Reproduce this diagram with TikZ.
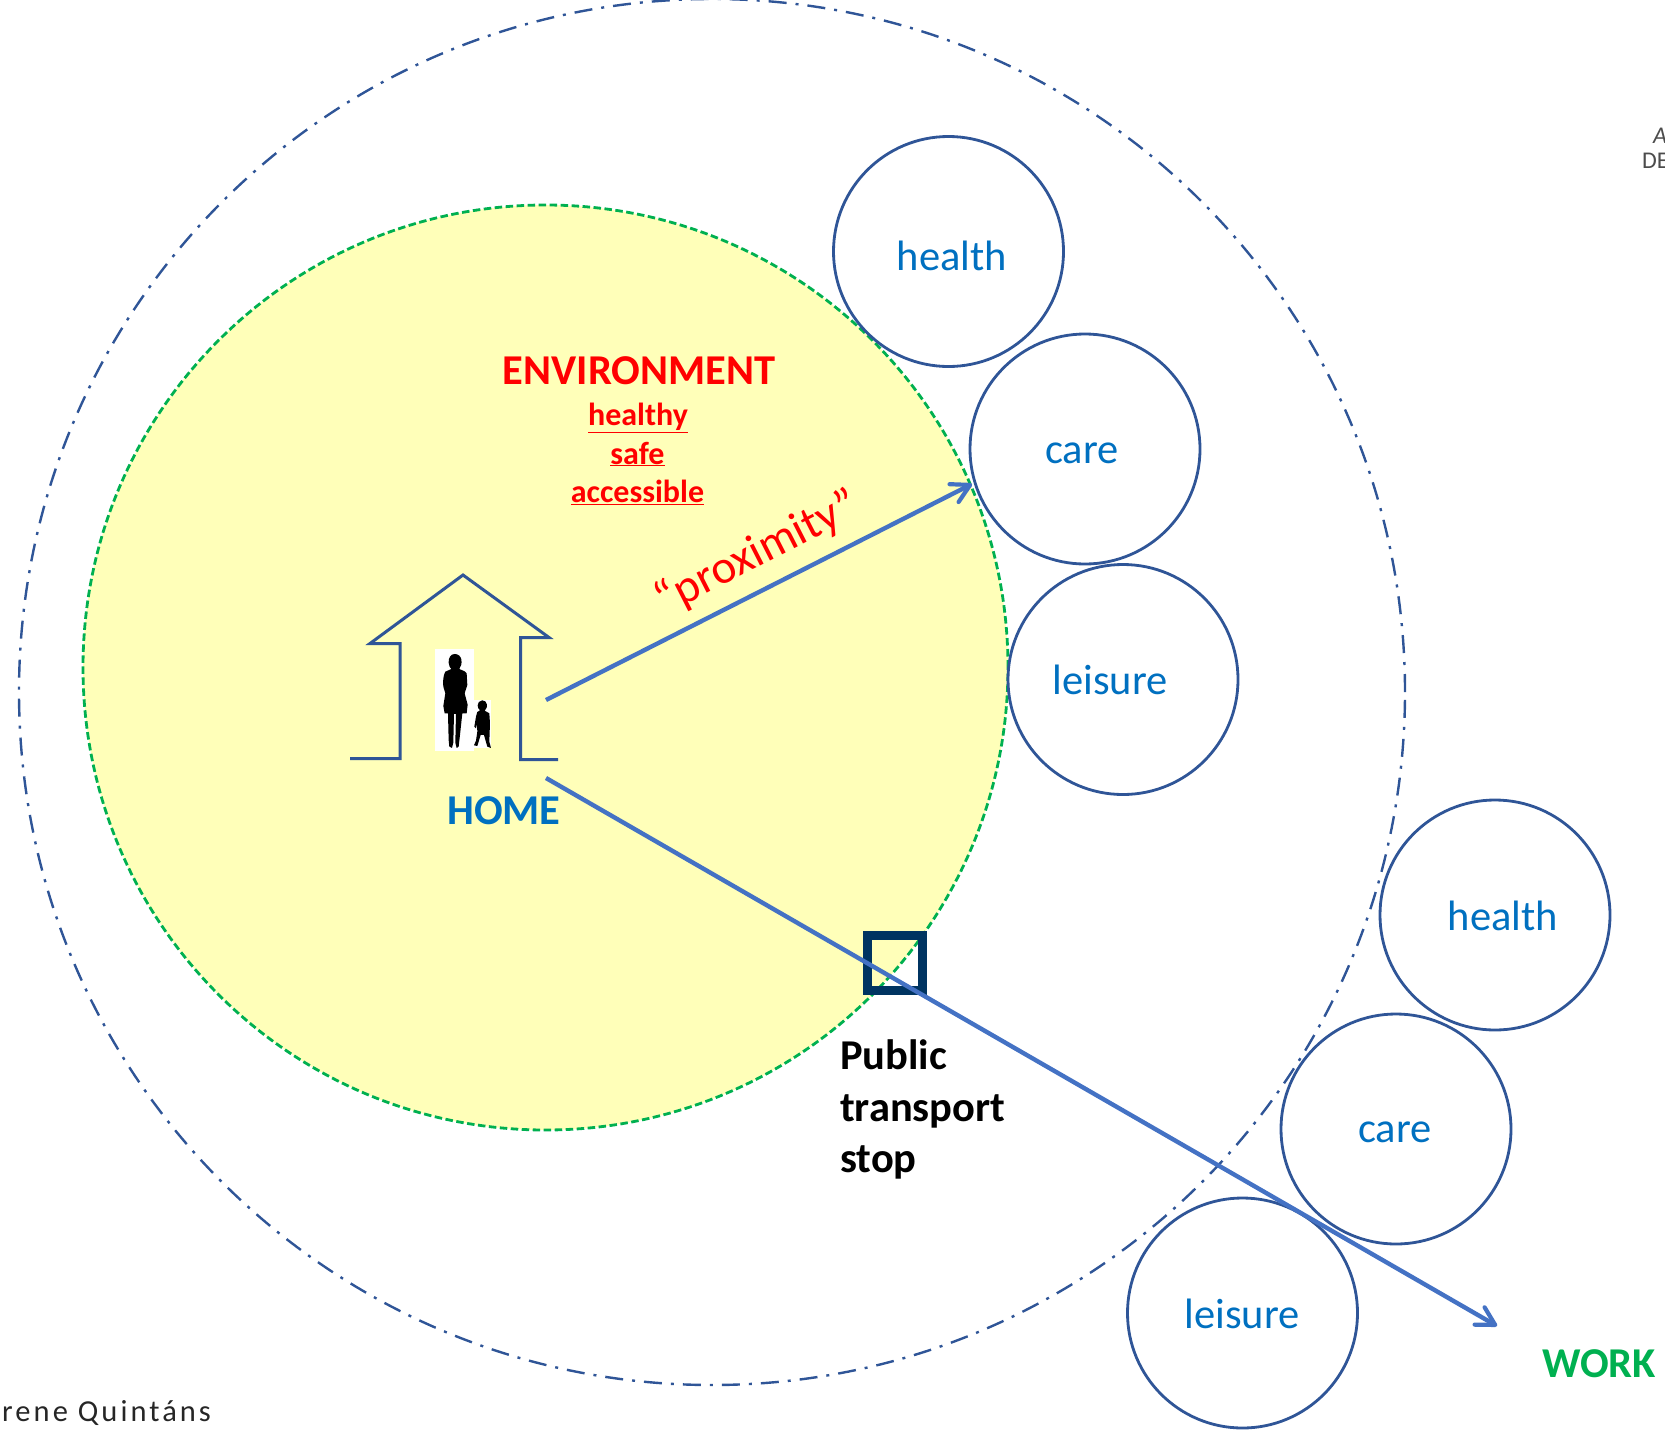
\documentclass[tikz,border=0pt]{standalone}
\usepackage{fontspec}
\setmainfont{Carlito}
\usetikzlibrary{arrows.meta}
\newcommand{\ulinetext}[1]{$\underline{\hbox{#1}}$}
\definecolor{ringblue}{HTML}{2F5597}
\definecolor{textblue}{HTML}{0070C0}
\definecolor{arrowblue}{HTML}{4472C4}
\definecolor{greenx}{HTML}{00B050}
\definecolor{yellowx}{HTML}{FFFFB9}
\definecolor{stopblue}{HTML}{003461}
\tikzset{
  x=1pt,y=-1pt,
  svc/.style={circle,draw=ringblue,fill=white,line width=2.8pt,minimum size=230pt,inner sep=0pt},
  svctext/.style={text=textblue,font=\fontsize{42.5}{44}\selectfont,inner sep=0pt},
  redsub/.style={text=red,font=\bfseries\fontsize{32}{34}\selectfont,inner sep=0pt},
  stoptext/.style={font=\bfseries\fontsize{42.5}{44}\selectfont,inner sep=0pt,anchor=base west},
  longarrow/.style={draw=arrowblue,line width=4.4pt,-{Straight Barb[length=18pt,width=20pt,line width=4.2pt,round]}},
  house/.style={draw=ringblue,line width=3pt,miter limit=10},
}
\begin{document}
\begin{tikzpicture}
\clip (0,0) rectangle (1665,1432);
\useasboundingbox (0,0) rectangle (1665,1432);
% rings
\node[circle,draw=ringblue,line width=2.4pt,dash pattern=on 18pt off 9pt on 3pt off 9pt,minimum size=1386pt,inner sep=0pt] (outer) at (712,692) {};
\node[circle,draw=greenx,fill=yellowx,line width=2.8pt,dash pattern=on 7.5pt off 3.5pt,minimum size=925pt,inner sep=0pt] (env) at (545.5,667.5) {};
% service circles
\node[svc] (health1) at (948.5,251.5) {};
\node[svc] (care1) at (1085,449) {};
\node[svc] (leisure1) at (1123,679.5) {};
\node[svc] (health2) at (1495,915) {};
\node[svc] (care2) at (1396,1129) {};
\node[svc] (leisure2) at (1242.5,1313) {};
\node[svctext] (th1) at (952,256) {health};
\node[svctext] (tc1) at (1082,453) {care};
\node[svctext] (tl1) at (1110,680) {leisure};
\node[svctext] (th2) at (1503,916) {health};
\node[svctext] (tc2) at (1395,1132) {care};
\node[svctext] (tl2) at (1242,1314) {leisure};
% house
\draw[house] (350,758.5) -- (400,758.5) -- (400,643.5) -- (370,643.5) -- (463,575) -- (549,637.5) -- (520.5,637.5) -- (520.5,759.5) -- (558,759.5);
% figures
\fill[white] (435,649) rectangle (474,751);
\fill[white] (474,700) rectangle (491,748);
\begin{scope}[shift={(330,550)},x=0.3333pt,y=-0.3333pt]
\fill[black] (374,312) .. controls (362,312) and (355,324) .. (356,338)
  .. controls (357,348) and (360,354) .. (364,357)
  -- (346,365) .. controls (340,375) and (338,395) .. (340,410)
  -- (346,430) -- (340,468) -- (344,490) -- (354,490)
  -- (356,570) -- (358,590) -- (366,594) -- (370,578) -- (372,492) -- (378,492)
  -- (376,578) -- (380,594) -- (386,590) -- (390,555) -- (397,490) -- (410,490)
  -- (413,464) -- (404,430) -- (412,405) -- (410,370) -- (404,364) -- (388,357)
  .. controls (394,348) and (396,340) .. (394,328)
  .. controls (392,318) and (384,312) .. (374,312) -- cycle;
\fill[black] (457,451) .. controls (448,451) and (443,459) .. (443,466)
  .. controls (443,473) and (446,478) .. (450,481)
  -- (442,486) -- (438,500) -- (433,530) -- (438,535) -- (441,522) -- (442,545)
  -- (438,572) -- (432,586) -- (442,588) -- (452,555) -- (462,555) -- (472,590)
  -- (483,594) -- (478,575) -- (480,520) -- (478,490) -- (464,482)
  .. controls (470,476) and (472,470) .. (471,464)
  .. controls (470,456) and (464,451) .. (457,451) -- cycle;
\end{scope}
% labels
\node[text=red,font=\bfseries\fontsize{42.5}{44}\selectfont,inner sep=0pt] (envt) at (639,371) {ENVIRONMENT};
\node[redsub] (hl) at (638,418) {\ulinetext{healthy}};
\node[redsub] (sf) at (637.5,454) {\ulinetext{safe}};
\node[redsub] (ac) at (637.5,492) {\ulinetext{accessible}};
\node[text=red,font=\fontsize{47}{50}\selectfont,inner sep=0pt,rotate=27] (prox) at (757.5,553) {“proximity”};
\node[text=textblue,font=\bfseries\fontsize{42.5}{44}\selectfont,inner sep=0pt] (home) at (504,811) {HOME};
% stop
\node[draw=stopblue,line width=9pt,minimum size=55pt,inner sep=0pt] (stop) at (895,962.5) {};
\node[stoptext] (s1) at (840,1069) {Public};
\node[stoptext] (s2) at (840,1121) {transport};
\node[stoptext] (s3) at (840,1172.5) {stop};
% arrows
\coordinate (a1s) at (546,700);
\coordinate (a1e) at (972,484);
\coordinate (a2s) at (546,778);
\coordinate (a2e) at (1497,1326);
\draw[longarrow] (a1s) -- (a1e);
\draw[longarrow] (a2s) -- (a2e);
\node[text=greenx,font=\bfseries\fontsize{42.5}{44}\selectfont,inner sep=0pt] (work) at (1599,1364) {WORK};
\node[font=\fontsize{30.5}{32}\selectfont,inner sep=0pt,anchor=base west,text=black!85] (credit) at (2,1421) {\addfontfeatures{LetterSpace=10}rene Quintáns};
\node[font=\itshape\fontsize{24}{26}\selectfont,inner sep=0pt,anchor=base west,text=black!70] (corner1) at (1653,143) {A};
\node[font=\fontsize{24}{26}\selectfont,inner sep=0pt,anchor=base west,text=black!70] (corner2) at (1642,168) {DE};
\end{tikzpicture}
\end{document}
